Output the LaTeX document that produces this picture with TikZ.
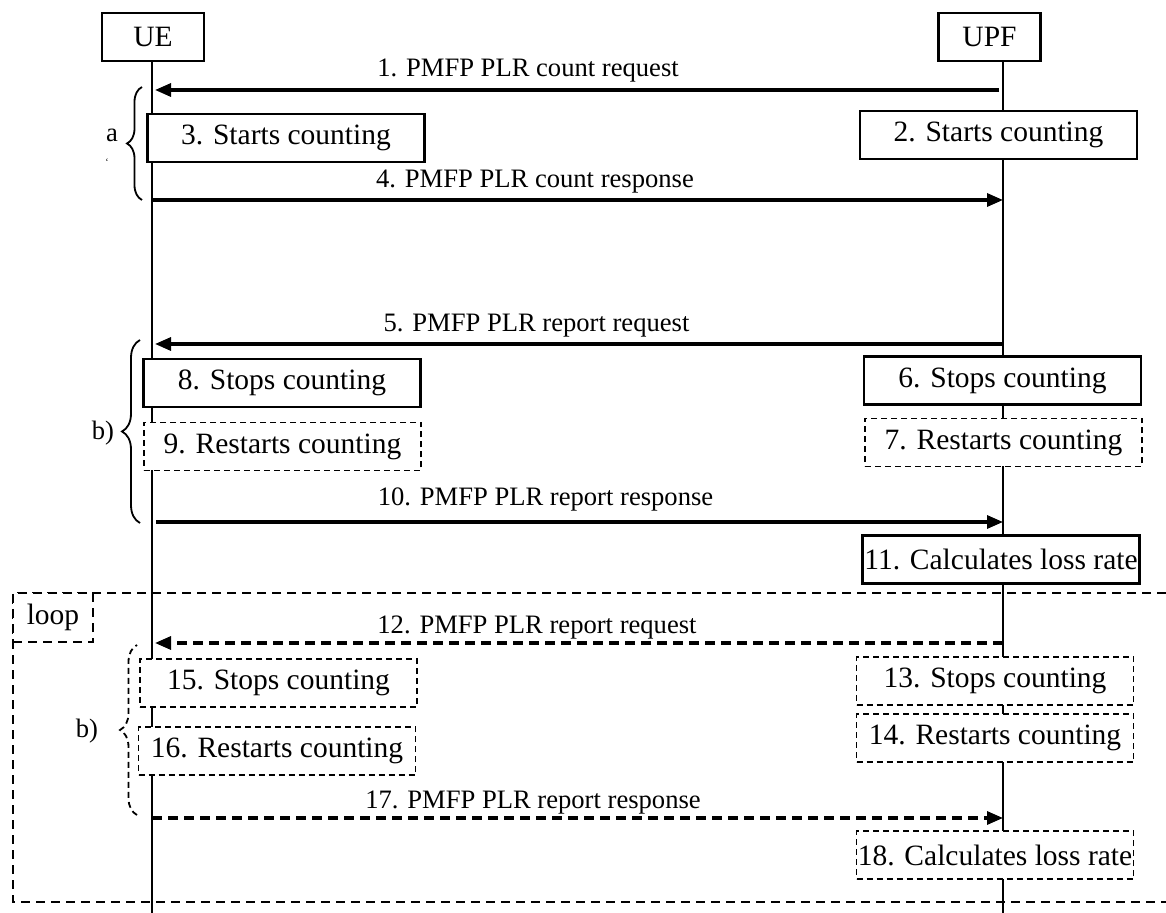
\documentclass[tikz,border=0pt]{standalone}
\usepackage{fontspec}
\setmainfont{Liberation Serif}
\usetikzlibrary{arrows.meta,decorations.pathreplacing}
\tikzset{x=0.5pt, y=-0.5pt,
    every node/.style={font=\fontsize{14.75pt}{17pt}\selectfont},
    head/.style={draw, line width=1.1pt, fill=white, minimum width=51pt, minimum height=24pt, inner sep=0pt},
    actbox/.style={draw, line width=1.1pt, fill=white, minimum width=138.5pt, minimum height=24pt, inner sep=0pt},
    optbox/.style={actbox, line width=0.8pt, dash pattern=on 3pt off 2pt},
    life/.style={line width=1pt},
    msg/.style={line width=1.6pt, -{Triangle[length=8pt,width=6.5pt]}},
    optmsg/.style={msg, dash pattern=on 5pt off 3pt},
    lbl/.style={anchor=base, inner sep=0pt, font=\fontsize{13.3pt}{16pt}\selectfont},
    brc/.style={decorate, decoration={brace, amplitude=#1}, line width=0.9pt},
    loopline/.style={line width=1pt, dash pattern=on 4.5pt off 3pt},
    }
\begin{document}
\begin{tikzpicture}
\useasboundingbox (0,0) rectangle (1166,913);
\node[head] (ue) at (153,37) {UE};
\node[head] (upf) at (989.5,37) {UPF};
\coordinate (ueTop) at (152,61);
\coordinate (ueBot) at (152,913);
\coordinate (upfTop) at (1003,61);
\coordinate (upfBot) at (1003,913);
\draw[life] (ueTop) -- (ueBot);
\draw[life] (upfTop) -- (upfBot);
\foreach \n/\y in {1/90,4/200,5/344,10/522,12/643,17/818}{
  \coordinate (u\n) at (152,\y);
  \coordinate (p\n) at (1003,\y);
}
% count request / response
\draw[msg, shorten >=1.5pt, shorten <=2pt] (p1) -- (u1);
\node[lbl] (l1) at (528,77) {1. PMFP PLR count request};
\node[actbox] (s2) at (998.5,135) {2. Starts counting};
\node[actbox] (s3) at (286,138) {3. Starts counting};
\draw[msg] (u4) -- (p4);
\node[lbl] (l4) at (535,188) {4. PMFP PLR count response};
\draw[brc=7.5pt] (142,200) -- (142,87);
\node[lbl] (a) at (112,142) {a};
\node[font=\tiny, inner sep=0pt] (tick) at (107,162) {`};
% report request / response
\draw[msg, shorten >=1.5pt] (p5) -- (u5);
\node[lbl] (l5) at (536.5,332) {5. PMFP PLR report request};
\node[actbox] (s6) at (1002.5,380.5) {6. Stops counting};
\node[optbox] (s7) at (1003.5,442.5) {7. Restarts counting};
\node[actbox] (s8) at (282,383) {8. Stops counting};
\node[optbox] (s9) at (282.5,446.5) {9. Restarts counting};
\draw[msg, shorten <=2pt] (u10) -- (p10);
\node[lbl] (l10) at (545.5,506) {10. PMFP PLR report response};
\draw[brc=9pt] (140,523) -- (140,340);
\node[lbl] (b1) at (103,440) {b)};
\node[actbox] (s11) at (1001,559.5) {11. Calculates loss rate};
% loop
\draw[loopline] (1166,593) -- (13,593) -- (13,902) -- (1166,902);
\node[draw, loopline, fill=white, minimum width=40pt, minimum height=24.5pt, inner sep=0pt] (loop) at (53,617.5) {loop};
\draw[optmsg, shorten >=1.5pt] (p12) -- (u12);
\node[lbl] (l12) at (537,633) {12. PMFP PLR report request};
\node[optbox] (s13) at (995,681) {13. Stops counting};
\node[optbox] (s14) at (995,738) {14. Restarts counting};
\node[optbox] (s15) at (278.5,683) {15. Stops counting};
\node[optbox] (s16) at (277,751) {16. Restarts counting};
\draw[optmsg] (u17) -- (p17);
\node[lbl] (l17) at (533,808) {17. PMFP PLR report response};
\draw[brc=8.5pt, dash pattern=on 3pt off 2pt] (137,815) -- (137,645);
\node[lbl] (b2) at (87,737) {b)};
\node[optbox] (s18) at (995,855) {18. Calculates loss rate};
\end{tikzpicture}
\end{document}
